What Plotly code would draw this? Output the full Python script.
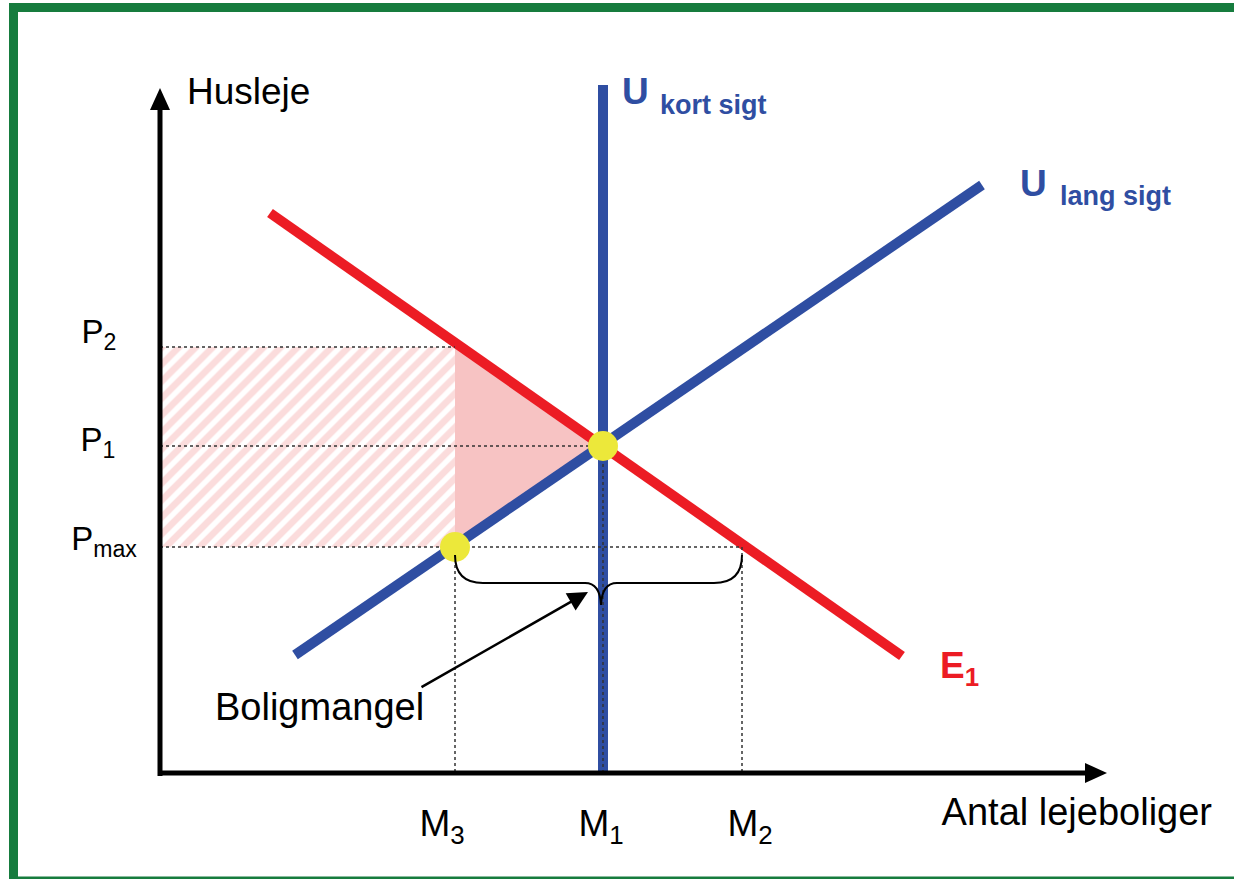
import plotly.graph_objects as go

# ---------------- data (model units; origin = corner of the axes) ----------------
quantity_names = ["M<sub>3</sub>", "M<sub>1</sub>", "M<sub>2</sub>"]
quantity_values = [295, 443, 582]          # M3, M1, M2
price_names = ["P<sub>2</sub>", "P<sub>1</sub>", "P<sub>max</sub>"]
price_values = [426, 327, 226]             # P2, P1, Pmax

demand_q = [110, 742]                      # E1
demand_p = [560, 117]
supply_long_q = [135, 822]                 # U lang sigt
supply_long_p = [118, 588]
supply_short_q = [443, 443]                # U kort sigt
supply_short_p = [0, 688]

axis_x_end = 947
axis_y_end = 685

M3, M1, M2 = quantity_values
P2, P1, PMAX = price_values

# ---------------- styles ----------------
RED = "#ec1c24"
BLUE = "#2f4ea2"
YELLOW = "#ece83a"
PINK = "#f7c3c3"
HATCH = "#f7b9b9"
GREEN = "#167c3e"
FONT = "Liberation Sans"

fig = go.Figure()

# hatched rectangle (0..M3, Pmax..P2)
fig.add_trace(go.Scatter(
    x=[0, M3, M3, 0, 0], y=[PMAX, PMAX, P2, P2, PMAX],
    mode="lines", line=dict(width=0), fill="toself", fillcolor="rgba(0,0,0,0)",
    fillpattern=dict(shape="/", fgcolor=HATCH, bgcolor="white", size=12, solidity=0.55),
    hoverinfo="skip", showlegend=False))

# pink triangle
fig.add_trace(go.Scatter(
    x=[M3, M1, M3, M3], y=[P2, P1, PMAX, P2],
    mode="lines", line=dict(width=0), fill="toself", fillcolor=PINK,
    hoverinfo="skip", showlegend=False))

# curves
fig.add_trace(go.Scatter(x=demand_q, y=demand_p, mode="lines",
                         line=dict(color=RED, width=10), hoverinfo="skip", showlegend=False))
fig.add_trace(go.Scatter(x=supply_long_q, y=supply_long_p, mode="lines",
                         line=dict(color=BLUE, width=10), hoverinfo="skip", showlegend=False))
fig.add_trace(go.Scatter(x=supply_short_q, y=supply_short_p, mode="lines",
                         line=dict(color=BLUE, width=10), hoverinfo="skip", showlegend=False))

# dotted guide lines
dot = dict(color="#333", width=1.5, dash="dot")
guides = [
    ([0, M3], [P2, P2]),
    ([0, M1], [P1, P1]),
    ([0, M2], [PMAX, PMAX]),
    ([M3, M3], [PMAX, 0]),
    ([M1, M1], [P1, 0]),
    ([M2, M2], [PMAX, 0]),
]
for gx, gy in guides:
    fig.add_trace(go.Scatter(x=gx, y=gy, mode="lines", line=dot,
                             hoverinfo="skip", showlegend=False))

# axes with arrowheads
fig.add_trace(go.Scatter(x=[0, 0], y=[-3, axis_y_end - 18], mode="lines",
                         line=dict(color="black", width=5), hoverinfo="skip", showlegend=False))
fig.add_trace(go.Scatter(x=[-2, axis_x_end - 18], y=[0, 0], mode="lines",
                         line=dict(color="black", width=5), hoverinfo="skip", showlegend=False))
fig.add_trace(go.Scatter(x=[0, -10, 10, 0], y=[axis_y_end, axis_y_end - 22, axis_y_end - 22, axis_y_end],
                         mode="lines", line=dict(width=0, color="black"), fill="toself",
                         fillcolor="black", hoverinfo="skip", showlegend=False))
fig.add_trace(go.Scatter(x=[axis_x_end, axis_x_end - 22, axis_x_end - 22, axis_x_end], y=[0, 10, -10, 0],
                         mode="lines", line=dict(width=0, color="black"), fill="toself",
                         fillcolor="black", hoverinfo="skip", showlegend=False))

# yellow points
fig.add_trace(go.Scatter(x=[M1, M3], y=[P1, PMAX], mode="markers",
                         marker=dict(color=YELLOW, size=30, line=dict(width=0)),
                         hoverinfo="skip", showlegend=False))

# brace under Pmax from M3 to M2
top = PMAX - 8
bar = PMAX - 36
tip = PMAX - 58
brace = (f"M {M3},{top} Q {M3},{bar} {M3 + 28},{bar} "
         f"L {M1 - 18},{bar} Q {M1 - 3},{bar} {M1 - 2},{tip} "
         f"Q {M1 - 1},{bar} {M1 + 14},{bar} "
         f"L {M2 - 28},{bar} Q {M2},{bar} {M2},{top}")

shapes = [
    dict(type="path", path=brace, xref="x", yref="y",
         line=dict(color="black", width=2), layer="above"),
    # green frame
    dict(type="rect", xref="x", yref="y", x0=-146.5, x1=1100, y0=-108, y1=765.5,
         line=dict(color=GREEN, width=9), fillcolor="rgba(0,0,0,0)", layer="above"),
]


def label(text, x, y, size, color="black", bold=False, anchor="center"):
    if bold:
        text = f"<b>{text}</b>"
    pos = {"left": "middle right", "center": "middle center", "right": "middle left"}[anchor]
    fig.add_trace(go.Scatter(x=[x], y=[y], mode="text", text=[text], textposition=pos,
                             textfont=dict(family=FONT, size=size, color=color),
                             hoverinfo="skip", showlegend=False, cliponaxis=False))


label("Husleje", 27, 678, 37, anchor="left")
label("Antal lejeboliger", 1052, -42, 38, anchor="right")
m_offsets = [-13, -2, 8]
for name, val, off in zip(quantity_names, quantity_values, m_offsets):
    label(name, val + off, -54, 37)
p_x = [-61, -62, -56]
p_off = [12, 3, 5]
for name, val, px, off in zip(price_names, price_values, p_x, p_off):
    label(name, px, val + off, 33)

label("U", 462, 678, 37, color=BLUE, bold=True, anchor="left")
label("kort sigt", 500, 666, 27, color=BLUE, bold=True, anchor="left")
label("U", 860, 586, 37, color=BLUE, bold=True, anchor="left")
label("lang sigt", 900, 575, 27, color=BLUE, bold=True, anchor="left")
label("E<sub>1</sub>", 780, 104, 37, color=RED, bold=True, anchor="left")
label("Boligmangel", 55, 63, 38, anchor="left")

# arrow from "Boligmangel" to the brace
ann = [dict(text="", x=M1 - 15, y=tip + 13, ax=260, ay=85, xref="x", yref="y",
            axref="x", ayref="y", showarrow=True, arrowhead=2, arrowsize=1.6,
            arrowwidth=2.5, arrowcolor="black", standoff=0)]

fig.update_layout(
    width=1234, height=879,
    margin=dict(l=0, r=0, t=0, b=0),
    paper_bgcolor="white", plot_bgcolor="white",
    font=dict(family=FONT, size=30),
    xaxis=dict(range=[-160, 1074], visible=False, fixedrange=True),
    yaxis=dict(range=[-106, 773], visible=False, fixedrange=True),
    shapes=shapes, annotations=ann, showlegend=False,
)

fig.write_html("out.html", config={"displayModeBar": False},
               post_script="document.body.style.margin='0px';")
